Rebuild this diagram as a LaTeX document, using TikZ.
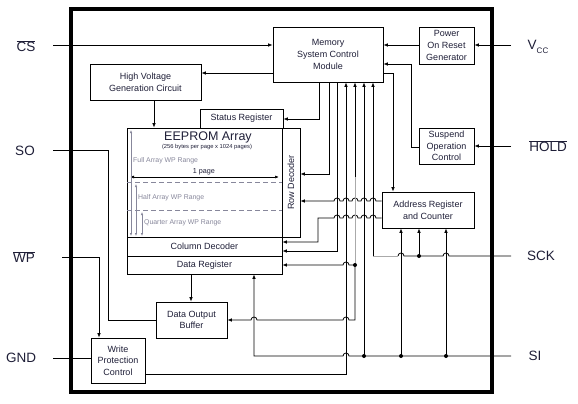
\documentclass[tikz,border=0pt]{standalone}
\usepackage{fontspec}
\setmainfont{Liberation Sans}
\usetikzlibrary{arrows.meta}
\definecolor{txt}{RGB}{30,30,55}
\definecolor{wpg}{RGB}{135,135,155}
\definecolor{lg}{RGB}{170,170,170}
\newcommand\hopl[2]{-- ({#1+3},#2) arc[start angle=0,end angle=180,radius=3pt]}
\newcommand\hopr[2]{-- ({#1-3},#2) arc[start angle=180,end angle=0,radius=3pt]}
\begin{document}
\begin{tikzpicture}[x=1pt,y=-1pt,
  box/.style={draw, line width=0.8pt, inner sep=0pt, align=center,
    font=\fontsize{9}{11.6}\selectfont, text=txt},
  pin/.style={font=\fontsize{13.5}{14}\selectfont, text=txt},
  arr/.style={-{Latex[length=4.5pt,width=3.6pt]}},
  wire/.style={line width=0.8pt},
  dot/.style={circle, fill=black, inner sep=0pt, minimum size=4pt},
  rng/.style={wpg, line width=0.5pt, {Latex[length=3pt,width=2.4pt]}-{Latex[length=3pt,width=2.4pt]}},
  rngtxt/.style={text=wpg, font=\fontsize{6.9}{8}\selectfont, anchor=west, inner sep=0pt}]
\useasboundingbox (0,0) rectangle (578,404);
% chip border
\draw[line width=3.5pt] (71,9) rectangle (492,392);
% blocks
\node[box, minimum width=110pt, minimum height=55pt] (mscm) at (328,54.5) {Memory\\System Control\\Module};
\node[box, minimum width=55pt, minimum height=37pt] (por) at (446.5,45.5) {Power\\On Reset\\Generator};
\node[box, minimum width=55pt, minimum height=36pt] (soc) at (446.5,146) {Suspend\\Operation\\Control};
\node[box, minimum width=92pt, minimum height=36pt] (arc) at (428,210) {Address Register\\and Counter};
\node[box, minimum width=111pt, minimum height=36pt] (hvgc) at (145.5,82) {High Voltage\\Generation Circuit};
\node[box, minimum width=83pt, minimum height=19pt] (sr) at (241.5,118.5) {Status Register};
\node[box, minimum width=155pt, minimum height=109pt] (array) at (204.5,182.5) {};
\node[box, minimum width=18pt, minimum height=109pt] (rd) at (291,182.5) {};
\node[rotate=90, font=\fontsize{9}{11}\selectfont, text=txt] (rdt) at (rd.center) {Row Decoder};
\node[box, minimum width=155pt, minimum height=19pt] (cd) at (204.5,246.5) {Column Decoder};
\node[box, minimum width=155pt, minimum height=18pt] (dr) at (204.5,265) {Data Register};
\node[box, minimum width=71pt, minimum height=36pt] (dob) at (191.5,320) {Data Output\\Buffer};
\node[box, minimum width=54pt, minimum height=45pt] (wpc) at (118,360.5) {Write\\Protection\\Control};
% array contents
\node[font=\fontsize{12.5}{13}\selectfont, text=txt, inner sep=0pt] (eep) at (208,137) {EEPROM Array};
\node[font=\fontsize{5.8}{6}\selectfont, text=txt, inner sep=0pt] (eepsub) at (207,146.5) {(256 bytes per page x 1024 pages)};
\node[rngtxt] (fr) at (133,161) {Full Array WP Range};
\node[font=\fontsize{7.2}{8}\selectfont, text=txt, inner sep=0pt] (pg) at (204,172) {1 page};
\draw[line width=0.7pt, {Latex[length=4pt,width=3pt]}-{Latex[length=4pt,width=3pt]}] (130,177) -- (279,177);
\draw[wpg, dashed, line width=0.6pt, dash pattern=on 5pt off 3pt] (127,182) -- (282,182);
\draw[wpg, dashed, line width=0.6pt, dash pattern=on 5pt off 3pt] (127,210) -- (282,210);
\node[rngtxt] (hr) at (138,198) {Half Array WP Range};
\node[rngtxt] (qr) at (144,223) {Quarter Array WP Range};
\draw[rng] (131,130) -- (131,236);
\draw[rng] (136,184) -- (136,236);
\draw[rng] (142,212) -- (142,236);
% pins
\coordinate (cs) at (53,45);
\coordinate (so) at (53,150);
\coordinate (wp) at (62,257);
\coordinate (gnd) at (53,358);
\coordinate (vcc) at (511,45);
\coordinate (hold) at (511,146);
\coordinate (sck) at (511,256);
\coordinate (si) at (511,356);
\node[pin] (csl) at (26,46) {$\overline{\mbox{CS}}$};
\node[pin] (sol) at (25,151) {SO};
\node[pin] (wpl) at (24,257) {$\overline{\mbox{WP}}$};
\node[pin] (gndl) at (21,358) {GND};
\node[pin] (vccl) at (538,47) {V\raisebox{-0.45ex}{\fontsize{8}{8}\selectfont CC}};
\node[pin] (holdl) at (548,146) {$\overline{\mbox{HOLD}}$};
\node[pin] (sckl) at (541,256) {SCK};
\node[pin] (sil) at (535,356) {SI};
% junction coordinates
\coordinate (j355) at (355,265);
\coordinate (j364) at (364,356);
\coordinate (j401) at (401,356);
\coordinate (j446) at (446,356);
\coordinate (j419) at (419,256);
% connectors
\draw[wire, arr] (cs) -- (cs -| mscm.west);
\draw[wire, arr] (mscm.west |- 0,73) -- (hvgc.east |- 0,73);
\draw[wire, arr] (hvgc.south -| 154,0) -- (array.north -| 154,0);
\draw[wire, arr] (por.west |- 0,45) -- (mscm.east |- 0,45);
\draw[wire, arr] (vcc) -- (vcc -| por.east);
\draw[wire, arr] (hold) -- (hold -| soc.east);
\draw[wire, arr] (soc.west |- 0,147) -- (411,147) -- (411,64) -- (mscm.east |- 0,64);
\draw[wire, arr] (mscm.east |- 0,73) -- (393,73) -- (arc.north -| 393,0);
\draw[wire, arr] (mscm.south -| 319,0) -- (319,119) -- (sr.east |- 0,119);
\draw[wire, arr] (mscm.south -| 329,0) -- (329,174) -- (rd.east |- 0,174);
\draw[wire, arr] (mscm.south -| 337,0) -- (337,251) -- (cd.east |- 0,251);
\draw[wire, arr] (arc.west |- 0,201) \hopl{373}{201} \hopl{364}{201} \hopl{355}{201} \hopl{346}{201} \hopl{337}{201} -- (rd.east |- 0,201);
\draw[wire, arr] (arc.west |- 0,218) \hopl{373}{218} \hopl{364}{218} \hopl{355}{218} \hopl{346}{218} \hopl{337}{218} -- (318,218) -- (318,242) -- (cd.east |- 0,242);
\draw[wire, arr] (j355) \hopl{346}{265} -- (dr.east |- 0,265);
\draw[wire, arr] (j355) -- (355,320) \hopl{346}{320} \hopl{254}{320} -- (dob.east |- 0,320);
\draw[wire, arr] (355,177) -- (mscm.south -| 355,0);
\draw[wire, lg] (355,177) -- (j355);
\draw[wire, arr] (wpc.east |- 0,374) -- (346,374) -- (mscm.south -| 346,0);
\draw[wire, arr] (si) -- (j446) -- (j401) -- (j364) \hopl{346}{356} -- (254,356) -- (dr.south -| 254,0);
\draw[wire, arr] (j364) -- (mscm.south -| 364,0);
\draw[wire, arr] (j401) -- (arc.south -| 401,0);
\draw[wire, arr] (j446) -- (arc.south -| 446,0);
\draw[wire] (sck) \hopl{446}{256} -- (j419) \hopl{401}{256};
\draw[wire, lg] (398,256) -- (373,256);
\draw[wire, arr] (373,256) -- (mscm.south -| 373,0);
\draw[wire, arr] (j419) -- (arc.south -| 419,0);
\draw[wire, arr] (dr.south -| 191,0) -- (dob.north -| 191,0);
\draw[wire] (so) -- (108,150) -- (108,320) -- (dob.west |- 0,320);
\draw[wire, arr] (wp) -- (99,257) -- (wpc.north -| 99,0);
\draw[wire] (gnd) -- (gnd -| wpc.west);
% dots
\foreach \p in {j355,j364,j401,j446,j419} \node[dot] at (\p) {};
\end{tikzpicture}
\end{document}
